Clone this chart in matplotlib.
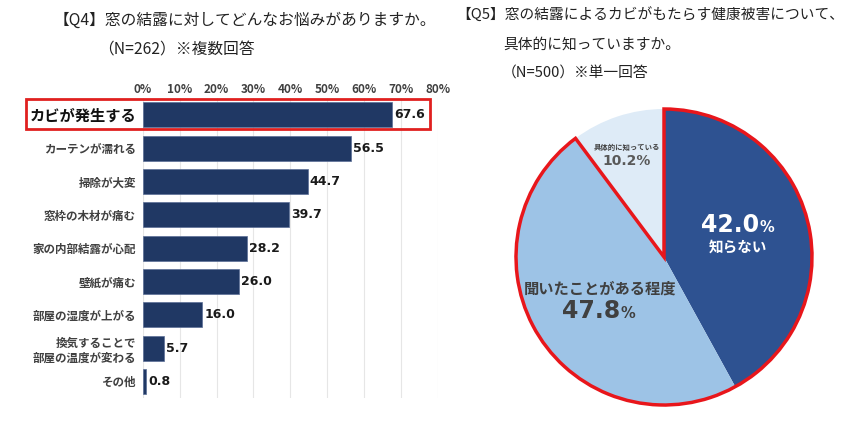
import matplotlib
matplotlib.use('Agg')
import matplotlib.pyplot as plt
from matplotlib.patches import Rectangle, Wedge

plt.rcParams['font.family'] = ['Noto Sans CJK JP', 'DejaVu Sans']

# Q4 data (multiple answers, N=262)
q4_labels = ['カビが発生する', 'カーテンが濡れる', '掃除が大変', '窓枠の木材が痛む',
             '家の内部結露が心配', '壁紙が痛む', '部屋の湿度が上がる',
             '換気することで\n部屋の温度が変わる', 'その他']
q4_values = [67.6, 56.5, 44.7, 39.7, 28.2, 26.0, 16.0, 5.7, 0.8]
q4_ticks = [0, 10, 20, 30, 40, 50, 60, 70, 80]

# Q5 data (single answer, N=500)
q5_labels = ['知らない', '聞いたことがある程度', '具体的に知っている']
q5_values = [42.0, 47.8, 10.2]
q5_colors = ['#2e5291', '#9dc3e6', '#deebf7']

W, H = 859, 421
fig = plt.figure(figsize=(W / 100, H / 100), dpi=100)

# titles
fig.text(54 / W, 1 - 20 / H, '【Q4】窓の結露に対してどんなお悩みがありますか。',
         fontsize=11.3, va='center', ha='left', color='#222222')
fig.text(98 / W, 1 - 50 / H, '（N=262）※複数回答',
         fontsize=11.3, va='center', ha='left', color='#222222')
fig.text(456 / W, 1 - 15 / H, '【Q5】窓の結露によるカビがもたらす健康被害について、',
         fontsize=10.6, va='center', ha='left', color='#222222')
fig.text(503 / W, 1 - 45 / H, '具体的に知っていますか。',
         fontsize=10.6, va='center', ha='left', color='#222222')
fig.text(502 / W, 1 - 74 / H, '（N=500）※単一回答',
         fontsize=10.6, va='center', ha='left', color='#222222')

# bar chart
ax = fig.add_axes([143 / W, 23 / H, 294.6 / W, 300 / H])
ypos = list(range(len(q4_values)))
ax.barh(ypos, q4_values, height=0.75, color='#203864', edgecolor='#5a6e96',
        linewidth=0.5, zorder=3)
ax.set_xlim(0, 80)
ax.set_ylim(len(q4_values) - 0.5, -0.5)
ax.set_xticks(q4_ticks)
ax.set_xticklabels([f'{t}%' for t in q4_ticks], fontsize=8.5, fontweight='bold',
                   color='#404040')
ax.xaxis.tick_top()
ax.tick_params(axis='both', length=0)
ax.tick_params(axis='x', pad=1.5)
ax.set_yticks(ypos)
ax.set_yticklabels(q4_labels, fontsize=8.3, fontweight='bold', color='#404040')
ax.tick_params(axis='y', pad=5)
first = ax.get_yticklabels()[0]
first.set_fontsize(11)
first.set_color('#111111')
ax.grid(axis='x', color='#e6e6e6', linewidth=0.8, zorder=0)
for s in ax.spines.values():
    s.set_visible(False)
for y, v in zip(ypos, q4_values):
    ax.text(v + 0.6, y, f'{v:.1f}', va='center', ha='left', fontsize=9,
            fontweight='bold', color='#1a1a1a', family=['DejaVu Sans'])

# highlight box around the top item
fig.patches.append(Rectangle((26 / W, 1 - 129 / H), 404 / W, 30 / H,
                             transform=fig.transFigure, fill=False,
                             edgecolor='#e0201f', linewidth=2))

# pie chart
axp = fig.add_axes([515 / W, 16 / H, 298 / W, 296 / H])
axp.pie(q5_values, colors=q5_colors, startangle=90, counterclock=False,
        radius=1, wedgeprops=dict(linewidth=0))
# red outline around the first two slices
span = 360 * (q5_values[0] + q5_values[1]) / 100
axp.add_patch(Wedge((0, 0), 1, 90 - span, 90, fill=False, edgecolor='#e8161b',
                    linewidth=2.5, clip_on=False, zorder=5))
axp.set_xlim(-1, 1)
axp.set_ylim(-1, 1)
axp.set_aspect('equal')
axp.axis('off')

axp.text(0.644, 0.168, f'{q5_values[0]:.1f}', ha='right', va='baseline',
         fontsize=17, fontweight='bold', color='white', family=['DejaVu Sans'])
axp.text(0.644, 0.168, '%', ha='left', va='baseline', fontsize=10.5,
         fontweight='bold', color='white', family=['DejaVu Sans'])
axp.text(0.50, 0.067, q5_labels[0], ha='center', va='center', fontsize=10.5,
         fontweight='bold', color='white')

axp.text(-0.43, -0.21, q5_labels[1], ha='center', va='center', fontsize=11,
         fontweight='bold', color='#404040')
axp.text(-0.295, -0.41, f'{q5_values[1]:.1f}', ha='right', va='baseline',
         fontsize=17, fontweight='bold', color='#404040', family=['DejaVu Sans'])
axp.text(-0.295, -0.41, '%', ha='left', va='baseline', fontsize=10.5,
         fontweight='bold', color='#404040', family=['DejaVu Sans'])

axp.text(-0.25, 0.74, q5_labels[2], ha='center', va='center', fontsize=5.3,
         fontweight='bold', color='#404040')
axp.text(-0.25, 0.65, f'{q5_values[2]:.1f}%', ha='center', va='center',
         fontsize=10, fontweight='bold', color='#595959', family=['DejaVu Sans'])

fig.savefig('out.png', dpi=100)
